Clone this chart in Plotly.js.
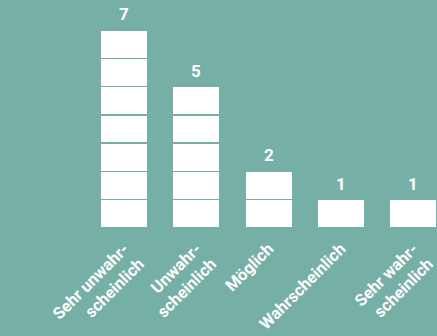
<!DOCTYPE html>
<html><head><meta charset="utf-8">
<script src="https://cdn.plot.ly/plotly-3.0.1.min.js"></script>
<style>html,body{margin:0;padding:0;background:#76afa5;}</style>
</head><body><div id="chart" style="width:437px;height:336px;"></div>
<script>
const categories = ["Sehr unwahr-<br>scheinlich", "Unwahr-<br>scheinlich", "Möglich", "Wahrscheinlich", "Sehr wahr-<br>scheinlich"];
const values = [7, 5, 2, 1, 1];

const bg = "#76afa5";
const maxV = Math.max(...values);
const traces = [];
for (let k = 0; k < maxV; k++) {
  traces.push({
    type: "bar",
    x: categories,
    y: values.map(v => v > k ? 1 : 0),
    marker: {color: "#ffffff", line: {color: bg, width: 1.5}},
    width: 0.655,
    hoverinfo: "skip",
    showlegend: false
  });
}
const annotations = categories.map((c, i) => ({
  x: c, y: values[i], xref: "x", yref: "y",
  text: String(values[i]), showarrow: false,
  yanchor: "bottom", yshift: 4,
  font: {family: "Roboto, 'Open Sans', sans-serif", size: 17, color: "#ffffff", weight: 700}
}));
Plotly.newPlot("chart", traces, {
  width: 437, height: 336,
  paper_bgcolor: bg, plot_bgcolor: bg,
  barmode: "stack", bargap: 0,
  margin: {l: 88, r: 0, t: 0, b: 108},
  showlegend: false,
  xaxis: {
    type: "category", range: [-0.5, 4.33],
    showgrid: false, zeroline: false, showline: false, ticks: "",
    tickangle: -45, ticklabelstandoff: 7,
    tickfont: {family: "Roboto, 'Open Sans', sans-serif", size: 16.5, color: "#ffffff", weight: 700}
  },
  yaxis: {range: [0, 8.06], visible: false, fixedrange: true},
  annotations: annotations
}, {displayModeBar: false, staticPlot: true});
</script></body></html>
